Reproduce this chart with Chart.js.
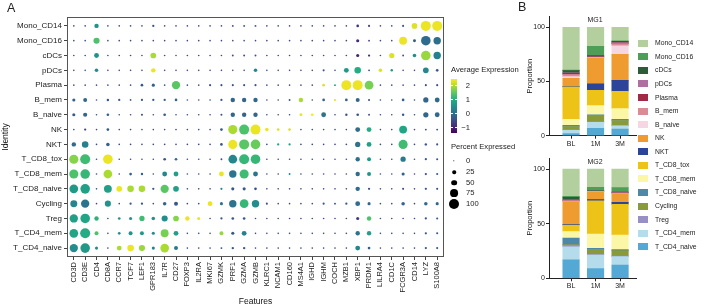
<!DOCTYPE html>
<html>
<head>
<meta charset="utf-8">
<script src="https://cdn.jsdelivr.net/npm/chart.js@4.4.1/dist/chart.umd.min.js"></script>
<style>
body { margin: 0; width: 705px; height: 307px; background: #fff; position: relative; overflow: hidden;
       font-family: "Liberation Sans", Arial, sans-serif; color: #222; }
canvas { position: absolute; }
.t { position: absolute; white-space: nowrap; line-height: 1; transform: translateY(-50%); }
.sw { position: absolute; width: 10px; height: 7px; }
.dot { position: absolute; border-radius: 50%; background: #000; transform: translate(-50%, -50%); }
</style>
</head>
<body>
<canvas id="dotChart" width="450" height="307" style="left:0;top:0;width:450px;height:307px"></canvas>
<canvas id="mg1Chart" width="125" height="150" style="left:515px;top:0;width:125px;height:150px"></canvas>
<canvas id="mg2Chart" width="125" height="150" style="left:515px;top:150px;width:125px;height:150px"></canvas>
<div id="overlay"></div>
<script>
const features = ["CD3D","CD3E","CD4","CD8A","CCR7","TCF7","LEF1","GPR183","IL7R","CD27","FOXP3",
    "IL2RA","MKI67","GZMK","PRF1","GZMA","GZMB","KLRC1","NCAM1","CD160","MS4A1","IGHD",
    "IGHM","COCH","MZB1","XBP1","PRDM1","LILRA4","CD1C","FCGR3A","CD14","LYZ","S100A8"];
const identities = ["Mono_CD14","Mono_CD16","cDCs","pDCs","Plasma","B_mem","B_naive","NK","NKT",
    "T_CD8_tox","T_CD8_mem","T_CD8_naive","Cycling","Treg","T_CD4_mem","T_CD4_naive"];

// average expression, one row per identity, columns follow features
const avgExp = [
    [-0.5,-0.5,0.6,-0.5,-0.5,-0.5,-0.5,-0.4,-0.5,-0.5,-0.5, -0.5,-0.5,-0.5,-0.4,-0.4,-0.4,-0.5,-0.5,-0.5,-0.5,-0.5, -0.5,-0.5,-0.5,-0.8,-0.7,-0.5,-0.5,-0.3,2.3,2.4,2.4],
    [-0.5,-0.5,1.4,-0.5,-0.5,-0.5,-0.5,-0.5,-0.5,-0.5,-0.5, -0.5,-0.5,-0.5,-0.5,-0.5,-0.5,-0.5,-0.5,-0.5,-0.5,-0.5, -0.5,-0.5,-0.5,-0.9,-0.6,-0.5,-0.5,2.4,-0.3,0.0,0.05],
    [-0.5,-0.5,0.6,-0.5,-0.5,-0.5,-0.5,2.0,-0.5,-0.5,-0.5, -0.5,-0.5,-0.5,-0.4,-0.4,-0.4,-0.5,-0.5,-0.5,-0.5,-0.5, -0.5,-0.5,-0.5,-1.0,-0.8,-0.5,2.3,-0.5,0.5,1.9,0.3],
    [-0.5,-0.5,0.5,-0.5,-0.5,-0.5,-0.5,2.4,-0.5,-0.5,-0.5, -0.5,-0.5,-0.5,-0.5,-0.5,0.4,-0.5,-0.5,-0.5,-0.5,-0.5, -0.3,-0.5,0.7,1.0,-0.5,2.3,0.6,-0.5,-0.5,0.4,-0.3],
    [-0.5,-0.5,-0.5,-0.5,-0.5,-0.5,-0.3,-0.2,-0.5,1.5,-0.5, -0.5,-0.4,-0.4,-0.4,-0.4,-0.4,-0.5,-0.5,-0.5,-0.5,-0.5, 2.3,0.8,2.4,2.4,1.7,-0.5,-0.5,-0.5,-0.5,-0.4,-0.4],
    [-0.2,-0.1,-0.5,-0.3,-0.3,-0.5,-0.3,-0.3,-0.3,-0.1,-0.5, -0.5,-0.5,-0.3,-0.1,-0.1,-0.1,-0.5,-0.5,-0.4,2.0,-0.5, -0.2,2.3,-0.2,-0.1,-0.4,-0.5,-0.5,-0.2,-0.5,-0.1,-0.05],
    [-0.2,-0.1,-0.5,-0.2,-0.5,-0.5,-0.4,-0.5,-0.2,-0.5,-0.5, -0.5,-0.5,-0.3,-0.1,-0.1,-0.1,-0.5,-0.5,-0.5,2.4,2.5, 0.1,-0.5,-0.3,-0.3,-0.4,-0.5,-0.5,-0.3,-0.5,-0.1,-0.05],
    [-0.5,-0.6,-0.5,-0.3,-0.5,-0.5,-0.5,-0.5,-0.5,-0.5,-0.5, -0.5,-0.5,-0.3,2.0,1.4,2.4,2.4,2.3,2.3,-0.5,-0.5, -0.5,-0.5,-0.5,0.0,1.0,-0.5,-0.5,0.9,-0.5,-0.4,-0.4],
    [0.0,0.3,-0.5,-0.2,-0.5,-0.5,-0.5,-0.5,-0.5,-0.5,-0.5, -0.5,-0.5,-0.3,2.4,1.5,1.6,-0.5,0.8,0.8,-0.5,-0.5, -0.5,-0.5,-0.5,0.1,0.8,-0.5,-0.5,1.3,-0.5,-0.3,-0.4],
    [1.8,1.3,-0.5,2.4,-0.5,-0.5,-0.5,-0.5,-0.3,0.0,-0.5, -0.5,-0.5,-0.4,0.4,1.2,1.2,-0.5,-0.5,-0.5,-0.5,-0.5, -0.5,-0.5,-0.5,0.05,0.7,-0.5,-0.5,0.2,-0.5,-0.3,-0.3],
    [1.4,1.2,-0.5,2.0,-0.5,-0.2,-0.2,-0.5,0.4,0.8,-0.5, -0.5,-0.5,2.4,0.1,1.3,0.1,-0.5,-0.5,0.3,-0.5,-0.5, -0.5,-0.5,-0.5,0.0,0.6,-0.5,-0.5,-0.2,-0.5,-0.3,-0.3],
    [0.7,0.8,-0.5,0.8,2.4,2.0,2.0,-0.3,1.5,0.8,-0.5, -0.5,-0.5,0.4,-0.3,-0.3,-0.4,-0.5,-0.5,-0.5,-0.5,-0.5, -0.5,-0.5,-0.5,0.0,-0.4,-0.5,-0.5,-0.4,-0.5,-0.3,-0.4],
    [0.4,0.1,-0.5,0.6,-0.5,-0.3,-0.3,-0.5,-0.1,-0.3,-0.5, -0.5,2.4,0.1,0.1,1.2,0.5,-0.4,-0.5,-0.5,-0.5,-0.5, -0.4,-0.4,-0.3,0.0,-0.1,-0.5,-0.5,-0.1,-0.5,0.0,-0.1],
    [0.8,0.9,1.1,-0.5,0.6,0.6,1.3,0.6,0.5,1.8,2.4, 2.4,-0.5,-0.3,-0.3,-0.3,-0.5,-0.5,-0.5,-0.5,-0.5,-0.5, -0.5,-0.5,-0.5,-0.7,1.4,-0.5,-0.5,-0.5,-0.5,-0.3,-0.3],
    [0.9,1.0,1.4,-0.5,0.5,0.6,0.7,0.5,1.7,0.8,-0.5, -0.5,-0.5,1.9,-0.3,0.3,-0.5,-0.5,-0.5,-0.5,-0.5,-0.5, -0.5,-0.5,-0.5,0.1,0.8,-0.5,-0.5,-0.5,-0.5,-0.3,-0.3],
    [0.5,0.7,0.5,-0.5,2.0,2.4,1.9,0.4,2.0,0.2,-0.5, -0.5,-0.5,-0.4,-0.3,-0.3,-0.5,-0.5,-0.5,-0.5,-0.5,-0.5, -0.5,-0.5,-0.5,0.4,-0.2,-0.5,-0.5,-0.5,-0.5,-0.3,-0.3]
];

// percent expressed, same layout
const pctExp = [
    [3,3,35,3,3,3,3,10,3,3,3, 3,3,3,6,6,6,3,3,3,3,3, 3,3,3,15,8,3,3,8,50,100,100],
    [3,3,55,3,3,3,3,3,3,3,3, 3,3,3,3,3,3,3,3,3,3,3, 3,3,3,20,5,3,3,75,18,95,70],
    [3,3,40,3,3,3,3,50,3,3,3, 3,3,3,6,6,6,3,3,3,3,3, 3,3,3,20,10,3,45,5,25,95,70],
    [3,3,25,3,3,3,3,35,3,3,3, 3,3,3,3,3,25,3,3,3,3,3, 8,3,40,60,5,25,12,3,3,50,15],
    [3,3,3,3,3,3,15,20,3,80,3, 3,8,8,8,8,8,3,3,3,3,3, 15,6,100,100,85,3,3,3,3,8,8],
    [20,30,3,12,10,4,10,10,10,15,3, 3,3,10,35,35,35,3,3,6,35,3, 15,8,15,30,8,3,3,15,3,45,40],
    [20,32,3,15,3,3,8,3,15,3,3, 3,3,8,35,35,35,3,3,3,18,15, 40,3,12,15,6,3,3,12,3,45,40],
    [3,10,3,15,3,3,3,3,3,3,3, 3,3,15,90,100,100,25,15,15,3,3, 3,3,3,40,40,3,3,75,3,6,6],
    [35,60,3,25,3,3,3,3,3,3,3, 3,3,15,90,100,95,3,10,10,3,3, 3,3,3,45,40,3,3,90,3,12,8],
    [90,100,3,95,3,3,3,3,15,15,3, 3,3,6,85,100,95,3,3,3,3,3, 3,3,3,35,30,3,3,45,3,10,8],
    [90,95,3,85,3,15,12,3,40,40,3, 3,3,40,70,90,40,3,3,6,3,3, 3,3,3,35,30,3,3,20,3,10,8],
    [85,95,3,75,50,60,60,10,80,50,3, 3,3,10,20,20,15,3,3,3,3,3, 3,3,3,35,10,3,3,8,3,10,8],
    [65,80,3,55,3,10,10,3,25,30,3, 3,40,20,70,85,70,8,3,3,3,3, 8,6,10,40,20,3,3,25,3,25,20],
    [80,95,35,3,15,20,45,25,55,50,35, 20,3,10,15,15,3,3,3,3,3,3, 3,3,3,20,35,3,3,3,3,10,8],
    [85,100,30,3,15,30,30,20,75,40,3, 3,3,30,20,40,3,3,3,3,3,3, 3,3,3,35,35,3,3,3,3,10,8],
    [80,95,20,3,40,60,55,20,85,30,3, 3,3,6,12,12,3,3,3,3,3,3, 3,3,3,40,15,3,3,3,3,10,8]
];

const expTicks = [2, 1, 0, -1];
const expMin = -1.36, expMax = 2.5;
const pctBreaks = [0, 25, 50, 75, 100];

// panel B
const timepoints = ["BL", "1M", "3M"];
const cellTypes = ["Mono_CD14","Mono_CD16","cDCs","pDCs","Plasma","B_mem","B_naive","NK","NKT",
    "T_CD8_tox","T_CD8_mem","T_CD8_naive","Cycling","Treg","T_CD4_mem","T_CD4_naive"];
const cellColors = ["#b3cf9e","#4e9e57","#2d5c3a","#b06fa0","#9e2a45","#dd8a97","#f7d6e4","#ee9b2f","#2c4598",
    "#eec318","#fbf7a6","#4e88a8","#889a39","#9690c6","#b4dceb","#53a9d4"];
const mg1BL = [39.5, 0.5, 2, 0.5, 1, 2, 1.5, 7.5, 0.5, 30, 5.5, 1, 3, 0.5, 3, 2];
const mg1M1 = [17.5, 8.6, 1, 0.2, 0.3, 0.3, 0.3, 24, 6, 14, 8.5, 0.5, 6, 0.5, 5.5, 6.8];
const mg1M3 = [12.5, 0.5, 1, 0.5, 0.5, 2, 8, 24, 10, 16, 10, 1, 4.5, 0.5, 3, 6];
const mg2BL = [25, 0.8, 2.5, 0.3, 0.5, 0.3, 0.3, 21, 0.5, 6, 6, 6, 0.5, 1.5, 12, 16.8];
const mg2M1 = [16.7, 3, 0.4, 0.2, 0.3, 0.2, 0.2, 7, 1, 30.5, 13, 1, 4.7, 0.5, 12.3, 9];
const mg2M3 = [17, 4, 0.5, 0.2, 0.3, 0.2, 0.2, 8, 2, 28, 13.3, 1, 5, 0.5, 7.6, 12.2];

const FONT = "'Liberation Sans', Arial, sans-serif";
const viridis = ["#440154","#482475","#414487","#355f8d","#2a788e","#21918c","#22a884","#44bf70","#7ad151","#bddf26","#fde725"];

function hexRgb(h) {
    return [1, 3, 5].map(i => parseInt(h.slice(i, i + 2), 16));
}

function expColor(v) {
    let t = (v - expMin) / (expMax - expMin);
    t = Math.max(0, Math.min(1, t)) * 10;
    const i = Math.min(9, Math.floor(t));
    const f = t - i;
    const a = hexRgb(viridis[i]), b = hexRgb(viridis[i + 1]);
    return "rgb(" + a.map((c, k) => Math.round(c + (b[k] - c) * f)).join(",") + ")";
}

function dotRadius(p) {
    return 0.7 + p * 0.043;
}

const panelFrame = {
    id: "panelFrame",
    afterDraw(chart) {
        const { ctx, chartArea: a } = chart;
        ctx.save();
        ctx.strokeStyle = "#555";
        ctx.lineWidth = 1;
        ctx.strokeRect(Math.round(a.left) + 0.5, Math.round(a.top) + 0.5,
            Math.round(a.right - a.left) - 1, Math.round(a.bottom - a.top) - 1);
        ctx.restore();
    }
};

// panel A: dot plot
const dots = [];
identities.forEach((id, r) => {
    features.forEach((f, c) => {
        dots.push({ x: c + 1, y: r + 1, exp: avgExp[r][c], pct: pctExp[r][c] });
    });
});

new Chart(document.getElementById("dotChart"), {
    type: "scatter",
    data: {
        datasets: [{
            data: dots,
            pointRadius: ctx => dotRadius(ctx.raw.pct),
            pointBackgroundColor: ctx => expColor(ctx.raw.exp),
            pointBorderWidth: 0
        }]
    },
    options: {
        responsive: false,
        animation: false,
        events: [],
        layout: { padding: { top: 17, right: 6, left: 0, bottom: 0 } },
        plugins: { legend: { display: false }, tooltip: { enabled: false } },
        scales: {
            x: {
                type: "linear", min: 0.4, max: 33.6,
                afterBuildTicks: s => { s.ticks = features.map((f, i) => ({ value: i + 1 })); },
                afterFit: s => { s.height = 50; },
                ticks: { callback: v => features[v - 1], autoSkip: false, minRotation: 90, maxRotation: 90,
                         padding: 2, font: { size: 7.5, family: FONT }, color: "#222" },
                grid: { drawOnChartArea: false, tickLength: 3, color: "#444" },
                border: { display: false },
                title: { display: true, text: "Features", font: { size: 8.5, family: FONT }, color: "#111",
                         padding: { top: 0, bottom: 0 } }
            },
            y: {
                type: "linear", min: 0.4, max: 16.6, reverse: true,
                afterBuildTicks: s => { s.ticks = identities.map((f, i) => ({ value: i + 1 })); },
                afterFit: s => { s.width = 67; },
                ticks: { callback: v => identities[v - 1], autoSkip: false, padding: 2,
                         font: { size: 8, family: FONT }, color: "#222" },
                grid: { drawOnChartArea: false, tickLength: 3, color: "#444" },
                border: { display: false },
                title: { display: true, text: "Identity", font: { size: 8.5, family: FONT }, color: "#111",
                         padding: { top: 0.5, bottom: 0 } }
            }
        }
    },
    plugins: [panelFrame]
});

// panel B: stacked proportions
function makeBars(canvasId, rows, padTop, axisHeight) {
    const order = cellTypes.map((c, i) => i).reverse();
    new Chart(document.getElementById(canvasId), {
        type: "bar",
        data: {
            datasets: order.map(i => ({
                label: cellTypes[i],
                data: rows.map((r, t) => ({ x: t + 1, y: r[i] })),
                backgroundColor: cellColors[i],
                borderWidth: 0,
                barThickness: 16.5
            }))
        },
        options: {
            responsive: false,
            animation: false,
            events: [],
            layout: { padding: { top: padTop, right: 4, left: 0, bottom: 0 } },
            plugins: { legend: { display: false }, tooltip: { enabled: false } },
            scales: {
                x: {
                    type: "linear", stacked: true, min: 0.1, max: 3.65, offset: false,
                    afterBuildTicks: s => { s.ticks = timepoints.map((t, i) => ({ value: i + 1 })); },
                    afterFit: s => { s.height = axisHeight; },
                    ticks: { callback: v => timepoints[v - 1], padding: 1, font: { size: 7, family: FONT }, color: "#222" },
                    grid: { drawOnChartArea: false, tickLength: 3, color: "#222", offset: false },
                    border: { color: "#222", width: 1 }
                },
                y: {
                    stacked: true, min: 0, max: 110,
                    afterBuildTicks: s => { s.ticks = [0, 50, 100].map(v => ({ value: v })); },
                    afterFit: s => { s.width = 34; },
                    ticks: { padding: 1, font: { size: 7, family: FONT }, color: "#222" },
                    grid: { drawOnChartArea: false, tickLength: 3, color: "#222" },
                    border: { color: "#222", width: 1 },
                    title: { display: true, text: "Proportion", font: { size: 7.5, family: FONT }, color: "#111",
                             padding: { top: 10, bottom: 0 } }
                }
            }
        }
    });
}

makeBars("mg1Chart", [mg1BL, mg1M1, mg1M3], 16.5, 14.3);
makeBars("mg2Chart", [mg2BL, mg2M1, mg2M3], 8.1, 21.7);

// legends and panel letters
const overlay = document.getElementById("overlay");
function addText(txt, x, y, size, extra) {
    const d = document.createElement("div");
    d.className = "t";
    d.textContent = txt;
    d.style.left = x + "px";
    d.style.top = y + "px";
    d.style.fontSize = size + "px";
    if (extra) Object.assign(d.style, extra);
    overlay.appendChild(d);
    return d;
}

addText("A", 7, 8, 12.5);
addText("B", 518, 7, 12.5);

addText("Average Expression", 451, 70, 7.6);
const bar = document.createElement("div");
bar.style.cssText = "position:absolute;left:451px;top:79px;width:6px;height:54px;background:linear-gradient(to top," +
    viridis.join(",") + ")";
overlay.appendChild(bar);
expTicks.forEach(v => {
    const y = 79 + (expMax - v) / (expMax - expMin) * 54;
    addText(v < 0 ? "\u2212" + Math.abs(v) : String(v), 0, y, 7.6, { left: "auto", right: (705 - 470) + "px" });
    ["451px", "455px"].forEach(l => {
        const tk = document.createElement("div");
        tk.style.cssText = "position:absolute;width:2px;height:1px;background:#fff;left:" + l + ";top:" + (y - 0.5) + "px";
        overlay.appendChild(tk);
    });
});

addText("Percent Expressed", 451, 147, 7.6);
const pctY = [161, 172.3, 182.7, 193.3, 204];
pctBreaks.forEach((p, i) => {
    const r = dotRadius(p);
    const d = document.createElement("div");
    d.className = "dot";
    d.style.width = (2 * r) + "px";
    d.style.height = (2 * r) + "px";
    d.style.left = "454px";
    d.style.top = pctY[i] + "px";
    overlay.appendChild(d);
    addText(String(p), 466, pctY[i], 7.6);
});

addText("MG1", 595, 19, 7, { transform: "translate(-50%,-50%)" });
addText("MG2", 595, 161, 7, { transform: "translate(-50%,-50%)" });

cellTypes.forEach((c, i) => {
    const y = 43.3 + i * 13.56;
    const s = document.createElement("div");
    s.className = "sw";
    s.style.left = "638px";
    s.style.top = (y - 3.5) + "px";
    s.style.background = cellColors[i];
    overlay.appendChild(s);
    addText(c, 655, y, 6.8);
});
</script>
</body>
</html>
